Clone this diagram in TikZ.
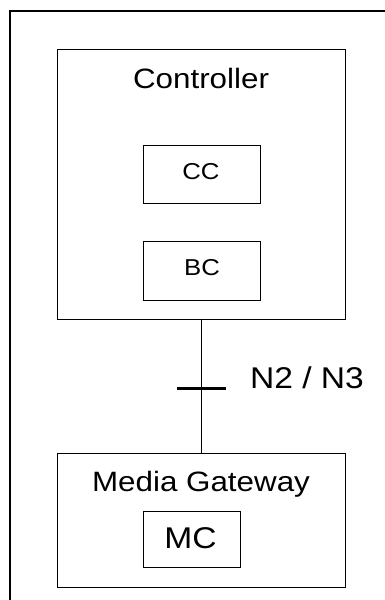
\documentclass[tikz,border=0pt]{standalone}
\usepackage{fontspec}
\setmainfont{Liberation Sans}[FakeStretch=1.12]
\usepackage{tikz}

\begin{document}
\begin{tikzpicture}[x=1pt,y=-1pt,line width=1pt]

      \useasboundingbox (0,0) rectangle (385,600);

      % outer frame, cut by the page at right and bottom
      \coordinate (frametl) at (10,11);
      \coordinate (frametr) at (385,11);
      \coordinate (framebl) at (10,600);
      \draw[line width=1.3pt] (framebl) -- (frametl) -- (frametr);

      \begin{scope}[every node/.style={draw,rectangle,inner sep=0pt}]
        \node[minimum width=288pt,minimum height=270pt] (ctrl) at (201,184) {};
        \node[minimum width=117pt,minimum height=58pt] (cc) at (201.5,174) {};
        \node[minimum width=117pt,minimum height=59pt] (bc) at (201.5,270.5) {};
        \node[minimum width=288pt,minimum height=134pt] (mgw) at (201,520) {};
        \node[minimum width=97pt,minimum height=56pt] (mc) at (191.5,539) {};
      \end{scope}

      \begin{scope}[every node/.style={anchor=base,inner sep=0pt}]
        \node[font=\fontsize{28}{30}\selectfont] (ctrltext) at (201,88.5) {Controller};
        \node[font=\fontsize{23}{26}\selectfont] (cctext) at (201,179.5) {CC};
        \node[font=\fontsize{23}{26}\selectfont] (bctext) at (202,275.5) {BC};
        \node[font=\fontsize{28}{30}\selectfont] (mgwtext) at (201,491.5) {Media Gateway};
        \node[font=\fontsize{30}{32}\selectfont] (mctext) at (190.5,548.5) {MC};
        \node[font=\fontsize{30}{32}\selectfont,anchor=base west] (ntext) at (249.5,388) {N2 / N3};
      \end{scope}

      \draw (ctrl.south) -- (mgw.north);

      \coordinate (tickl) at (177,388);
      \coordinate (tickr) at (226,388);
      \draw[line width=3pt] (tickl) -- (tickr);

    \end{tikzpicture}
\end{document}
